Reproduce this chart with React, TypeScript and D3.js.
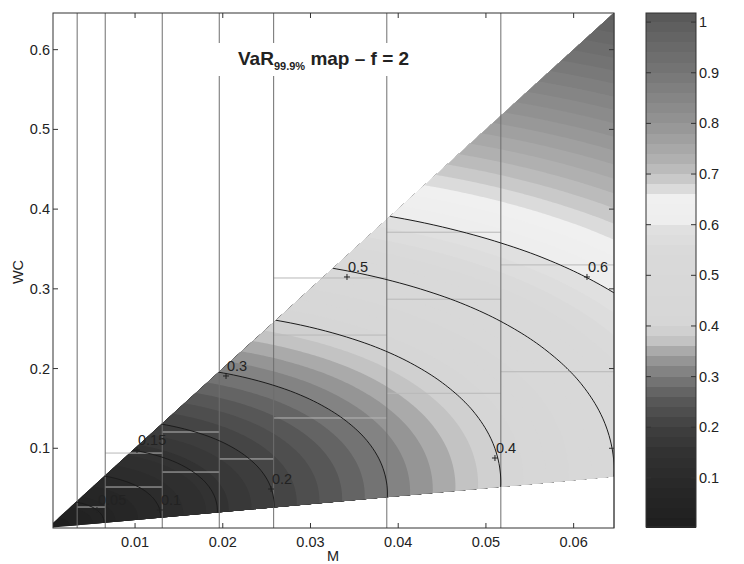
import React, { useMemo } from 'react'
import * as d3 from 'd3'

// axes
const mDomain = [0.000646, 0.0646]
const wcDomain = [0, 0.646]
const xTicks = [0.01, 0.02, 0.03, 0.04, 0.05, 0.06]
const yTicks = [0.1, 0.2, 0.3, 0.4, 0.5, 0.6]
const cbTicks = [0.1, 0.2, 0.3, 0.4, 0.5, 0.6, 0.7, 0.8, 0.9, 1]
const cbDomain = [0.003, 1.018]

// the map is defined between WC = 1*M and WC = 10*M
const ratioLow = 1
const ratioHigh = 10

const rayRatio = [0, 1, 2, 3, 4, 5, 6, 7, 8, 9, 10, 11, 12]
const varPerM = [7.92, 7.74, 7.85, 8.23, 8.85, 9.66, 10.62, 11.7, 12.86, 14.08, 15.35, 16.65, 17.99]

// filled levels and labelled contour lines
const fillStep = 0.02
const fillLevels = d3.range(0, 1.04, fillStep)
const lineLevels = [0.05, 0.1, 0.15, 0.2, 0.3, 0.4, 0.5, 0.6]
const labelText = ['0.05', '0.1', '0.15', '0.2', '0.3', '0.4', '0.5', '0.6']
const labelM = [0.00566, 0.01284, 0.01022, 0.0255, 0.02037, 0.05103, 0.03416, 0.06152]
const labelWC = [0.0226, 0.0226, 0.0978, 0.0489, 0.1907, 0.0878, 0.3149, 0.3149]

// mesh lines: vertical M lines and the short horizontal pieces inside each strip
const meshM = [0.0034, 0.0066, 0.0131, 0.0196, 0.0258, 0.0387, 0.0517, 0.0646]
const meshWC = [
    [0.0263],
    [0.0514, 0.094],
    [0.0702, 0.1204],
    [0.0866],
    [0.138, 0.242, 0.3136],
    [0.169, 0.287, 0.371],
    [0.196, 0.33],
]

// grey colormap (value -> grey level)
const cmapValue = [0, 0.1, 0.15, 0.2, 0.26, 0.3, 0.34, 0.37, 0.4, 0.55, 0.59, 0.61, 0.65, 0.68, 0.72, 0.8, 0.9, 1.0, 1.02]
const cmapGray = [30, 42, 50, 64, 92, 122, 158, 195, 214, 218, 224, 238, 240, 208, 180, 148, 118, 92, 86]

const plot = { left: 53, right: 614, top: 13, bottom: 528 }
const bar = { left: 646, right: 696 }
const font = '"Liberation Sans", Arial, Helvetica, sans-serif'

function catmull(p0: number, p1: number, p2: number, p3: number, t: number) {
    return 0.5 * (2 * p1 + (-p0 + p2) * t + (2 * p0 - 5 * p1 + 4 * p2 - p3) * t * t + (-p0 + 3 * p1 - 3 * p2 + p3) * t * t * t)
}

function perM(t: number) {
    const n = rayRatio.length
    const dt = rayRatio[1] - rayRatio[0]
    const s = Math.max(0, Math.min(n - 1.0001, (t - rayRatio[0]) / dt))
    const i = Math.floor(s)
    const f = s - i
    const p = (k: number) => varPerM[Math.max(0, Math.min(n - 1, k))]
    return catmull(p(i - 1), p(i), p(i + 1), p(i + 2), f)
}

function varAt(m: number, wc: number) {
    const mm = Math.max(m, 1e-7)
    return mm * perM(wc / mm)
}

export default function App() {
    const x = d3.scaleLinear().domain(mDomain).range([plot.left, plot.right])
    const y = d3.scaleLinear().domain(wcDomain).range([plot.bottom, plot.top])
    const cb = d3.scaleLinear().domain(cbDomain).range([plot.bottom - 1, plot.top])
    const grayScale = d3.scaleLinear().domain(cmapValue).range(cmapGray).clamp(true)
    const color = (v: number) => {
        const g = Math.round(grayScale(v))
        return `rgb(${g},${g},${g})`
    }

    const { fills, lines } = useMemo(() => {
        const step = 2
        const pad = 6
        const gx0 = plot.left - pad
        const gy0 = plot.top - pad
        const nx = Math.ceil((plot.right - plot.left + 2 * pad) / step) + 1
        const ny = Math.ceil((plot.bottom - plot.top + 2 * pad) / step) + 1
        const values = new Array(nx * ny)
        for (let j = 0; j < ny; ++j) {
            const wc = y.invert(gy0 + j * step)
            for (let i = 0; i < nx; ++i) {
                values[j * nx + i] = varAt(x.invert(gx0 + i * step), wc)
            }
        }
        const proj = d3.geoTransform({
            point: function (px: number, py: number) {
                this.stream.point(gx0 + (px - 0.5) * step, gy0 + (py - 0.5) * step)
            }
        })
        const path = d3.geoPath(proj)
        const fills = d3.contours().size([nx, ny]).thresholds(fillLevels)(values)
            .map(c => ({ value: c.value, d: path(c) || '' }))
        const lines = d3.contours().size([nx, ny]).thresholds(lineLevels)(values)
            .map(c => ({ value: c.value, d: path(c) || '' }))
        return { fills, lines }
    }, [])

    const m0 = mDomain[0]
    const m1 = mDomain[1]
    const triangle = [
        [x(m0), y(ratioLow * m0)],
        [x(m1), y(ratioLow * m1)],
        [x(m1), y(ratioHigh * m1)],
        [x(m0), y(ratioHigh * m0)],
    ].map(p => p.join(',')).join(' ')

    const tick = 5
    const txt = { fontFamily: font, fontSize: 14.5, fill: '#222' }

    return (
        <div style={{ position: 'absolute', left: 0, top: 0 }}>
            <svg width={744} height={564} style={{ display: 'block', background: '#fff' }}>
                <defs>
                    <clipPath id="tri">
                        <polygon points={triangle} />
                    </clipPath>
                    <clipPath id="cbclip">
                        <rect x={bar.left} y={plot.top} width={bar.right - bar.left} height={plot.bottom - plot.top} />
                    </clipPath>
                </defs>

                <g clipPath="url(#tri)">
                    {fills.map((f, i) => (
                        <path key={i} d={f.d} fill={color(f.value + fillStep / 2)} />
                    ))}
                </g>

                {meshWC.map((row, k) => row.map((wc, i) => (
                    <line key={k + '-' + i} x1={x(meshM[k])} x2={x(meshM[k + 1])} y1={y(wc)} y2={y(wc)}
                          stroke="#b8b8b8" strokeWidth={1} />
                )))}

                {meshM.map((m, i) => (
                    <line key={i} x1={x(m)} x2={x(m)} y1={plot.top} y2={plot.bottom} stroke="#6e6e6e" strokeWidth={1} />
                ))}

                <g clipPath="url(#tri)">
                    {lines.map((l, i) => (
                        <path key={i} d={l.d} fill="none" stroke="#1c1c1c" strokeWidth={1} />
                    ))}
                </g>

                {labelText.map((t, i) => {
                    const px = x(labelM[i])
                    const py = y(labelWC[i])
                    return (
                        <g key={t}>
                            <line x1={px - 3} x2={px + 3} y1={py} y2={py} stroke="#222" />
                            <line x1={px} x2={px} y1={py - 3} y2={py + 3} stroke="#222" />
                            <text x={px + 1} y={py - 5} {...txt}>{t}</text>
                        </g>
                    )
                })}

                {/* title with its white box */}
                <rect x={212} y={43} width={208} height={33} fill="#fff" />
                <text x={238} y={65} fontFamily={font} fontWeight="bold" fontSize={19} fill="#222">
                    VaR<tspan fontSize={11} dy={4.5}>99.9%</tspan><tspan fontSize={19} dy={-4.5}>{' map – f = 2'}</tspan>
                </text>

                {/* axes box and ticks */}
                <rect x={plot.left} y={plot.top} width={plot.right - plot.left} height={plot.bottom - plot.top}
                      fill="none" stroke="#333" strokeWidth={1} />
                {xTicks.map(t => (
                    <g key={t}>
                        <line x1={x(t)} x2={x(t)} y1={plot.bottom} y2={plot.bottom - tick} stroke="#333" />
                        <line x1={x(t)} x2={x(t)} y1={plot.top} y2={plot.top + tick} stroke="#333" />
                        <text x={x(t)} y={547} textAnchor="middle" {...txt}>{t}</text>
                    </g>
                ))}
                {yTicks.map(t => (
                    <g key={t}>
                        <line x1={plot.left} x2={plot.left + tick} y1={y(t)} y2={y(t)} stroke="#333" />
                        <line x1={plot.right} x2={plot.right - tick} y1={y(t)} y2={y(t)} stroke="#333" />
                        <text x={plot.left - 3} y={y(t) + 5} textAnchor="end" {...txt}>{t}</text>
                    </g>
                ))}
                <text x={333} y={561} textAnchor="middle" {...txt}>M</text>
                <text transform="translate(23,272) rotate(-90)" textAnchor="middle" {...txt}>WC</text>

                {/* colorbar */}
                <g clipPath="url(#cbclip)" shapeRendering="crispEdges">
                    {fillLevels.map(l => (
                        <rect key={l} x={bar.left} width={bar.right - bar.left}
                              y={cb(l + fillStep)} height={cb(l) - cb(l + fillStep)}
                              fill={color(l + fillStep / 2)} />
                    ))}
                </g>
                <rect x={bar.left} y={plot.top} width={bar.right - bar.left} height={plot.bottom - 1 - plot.top}
                      fill="none" stroke="#333" strokeWidth={1} />
                {cbTicks.map(t => (
                    <g key={t}>
                        <line x1={bar.left} x2={bar.left + tick} y1={cb(t)} y2={cb(t)} stroke="#333" />
                        <line x1={bar.right} x2={bar.right - tick} y1={cb(t)} y2={cb(t)} stroke="#333" />
                        <text x={bar.right + 3} y={cb(t) + 5} {...txt}>{t}</text>
                    </g>
                ))}
            </svg>
        </div>
    )
}
